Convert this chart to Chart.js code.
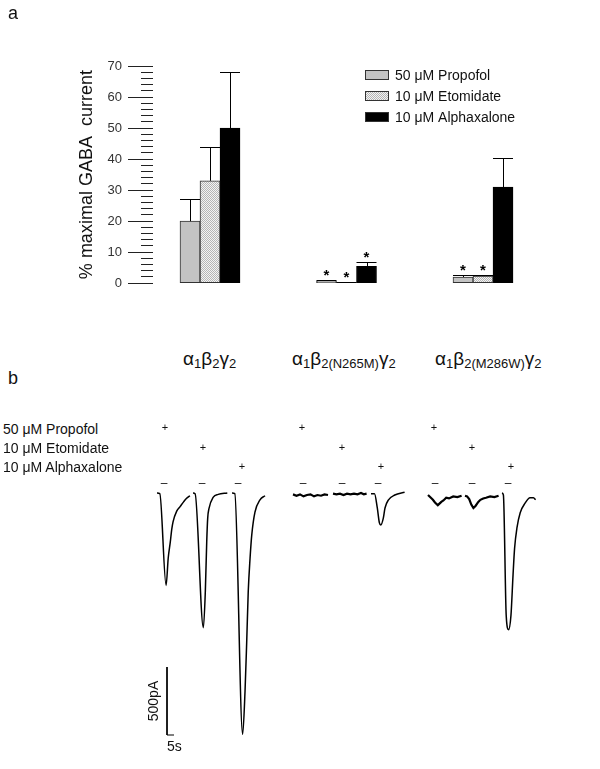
<!DOCTYPE html>
<html lang="en">
<head>
<meta charset="utf-8" />
<title>Anaesthetic potentiation of GABA currents</title>
<style>
  body { margin: 0; background: #fff; font-family: "Liberation Sans", Arial, sans-serif; color: #111; }
  #page { position: relative; width: 600px; height: 769px; overflow: hidden; }
  #bars { position: absolute; left: 0; top: 0; }
  #traces { position: absolute; left: 0; top: 470px; }
  .txt { position: absolute; line-height: 1; white-space: nowrap; }
  .panel { font-size: 18px; }
  .row { font-size: 14px; left: 3px; }
  .grp { font-size: 19px; top: 349px; }
  .grp sub { font-size: 13px; vertical-align: -3px; line-height: 1; }
  .plus { font-size: 11px; transform: translateX(-50%); }
  .dash { font-size: 12px; top: 477px; transform: translateX(-50%); }
</style>
<script src="https://cdn.jsdelivr.net/npm/chart.js"></script>
</head>
<body>
<div id="page">
  <canvas id="bars" width="600" height="310"></canvas>
  <canvas id="traces" width="600" height="299"></canvas>

  <div class="txt panel" style="left:8px; top:4px;">a</div>
  <div class="txt panel" style="left:8px; top:369px;">b</div>

  <div class="txt grp" style="left:183px;">α<sub>1</sub>β<sub>2</sub>γ<sub>2</sub></div>
  <div class="txt grp" style="left:292px;">α<sub>1</sub>β<sub>2(N265M)</sub>γ<sub>2</sub></div>
  <div class="txt grp" style="left:435px;">α<sub>1</sub>β<sub>2(M286W)</sub>γ<sub>2</sub></div>

  <div class="txt row" style="top:422px;">50 μM Propofol</div>
  <div class="txt row" style="top:441px;">10 μM Etomidate</div>
  <div class="txt row" style="top:460px;">10 μM Alphaxalone</div>

  <div class="txt plus" style="left:165px; top:422px;">+</div>
  <div class="txt plus" style="left:302px; top:422px;">+</div>
  <div class="txt plus" style="left:434px; top:422px;">+</div>
  <div class="txt plus" style="left:203px; top:442px;">+</div>
  <div class="txt plus" style="left:342px; top:442px;">+</div>
  <div class="txt plus" style="left:472px; top:442px;">+</div>
  <div class="txt plus" style="left:242px; top:461px;">+</div>
  <div class="txt plus" style="left:381px; top:461px;">+</div>
  <div class="txt plus" style="left:511px; top:461px;">+</div>

  <div class="txt dash" style="left:164px;">–</div>
  <div class="txt dash" style="left:202px;">–</div>
  <div class="txt dash" style="left:238px;">–</div>
  <div class="txt dash" style="left:303px;">–</div>
  <div class="txt dash" style="left:342px;">–</div>
  <div class="txt dash" style="left:378px;">–</div>
  <div class="txt dash" style="left:435px;">–</div>
  <div class="txt dash" style="left:472px;">–</div>
  <div class="txt dash" style="left:508px;">–</div>

  <div class="txt" style="left:153px; top:701px; font-size:14px; transform:translate(-50%,-50%) rotate(-90deg);">500pA</div>
  <div class="txt" style="left:167px; top:739px; font-size:14px;">5s</div>
</div>

<script>
  const FONT = '"Liberation Sans", Arial, sans-serif';

  // ---- panel a : % of maximal GABA current ----
  const receptors = ['α1β2γ2', 'α1β2(N265M)γ2', 'α1β2(M286W)γ2'];
  const drugs = ['50 μM Propofol', '10 μM Etomidate', '10 μM Alphaxalone'];
  const propofolMean = [20, 0.7, 2.0];
  const propofolSem = [7, 0.2, 0.8];
  const etomidateMean = [33, 0.3, 2.3];
  const etomidateSem = [11, 0.1, 0.5];
  const alphaxaloneMean = [50, 5.4, 31];
  const alphaxaloneSem = [18, 1.4, 9.2];
  const propofolSig = [false, true, true];
  const etomidateSig = [false, true, true];
  const alphaxaloneSig = [false, true, false];
  const yMin = 0, yMax = 70, majorStep = 10, minorStep = 2;

  // ---- panel b : current traces (time s from sweep start, current pA) ----
  const wtPropT = [0, 2, 6.5, 8, 9.5, 10.5, 11.5, 14, 16.5, 19, 21, 23.5];
  const wtPropI = [0, -5, -680, -480, -360, -270, -210, -135, -100, -65, -40, -20];
  const wtEtoT = [0, 1.5, 7.4, 8.8, 9.8, 10.5, 11.4, 14.5, 18, 24.5];
  const wtEtoI = [0, -5, -990, -725, -360, -185, -115, -30, -10, 0];
  const wtAlphT = [0, 2, 7.6, 9.3, 10.5, 11.6, 12.9, 14.1, 16.4, 20, 23.6];
  const wtAlphI = [0, -5, -1775, -1460, -1095, -725, -480, -310, -140, -50, -20];
  const nPropT = [0, 2.5, 5, 7.5, 10, 12.5, 15, 17.5, 20, 22.5, 25];
  const nPropI = [-10, -20, -10, -25, -15, -10, -25, -15, -20, -10, -15];
  const nEtoT = [0, 2.5, 5, 7.5, 10, 12.5, 15, 17.5, 20, 22, 24];
  const nEtoI = [-5, -10, -5, -15, -5, -10, -5, -10, 0, -10, -5];
  const nAlphT = [0, 2.5, 4.5, 6, 7, 8.8, 10, 12.5, 17, 24];
  const nAlphI = [-5, -5, -110, -220, -235, -185, -110, -50, -15, 5];
  const mPropT = [0, 1.5, 3.5, 5, 7, 8, 9.5, 11, 13, 15, 18, 21, 24];
  const mPropI = [-15, -30, -50, -70, -90, -80, -65, -55, -35, -40, -25, -30, -20];
  const mEtoT = [0, 1.5, 3, 4.5, 6, 7.5, 9.5, 11, 13, 15, 18, 21, 24];
  const mEtoI = [-20, -25, -45, -85, -110, -95, -65, -50, -40, -35, -25, -30, -20];
  const mAlphT = [0, 1, 3, 4.7, 6.4, 7.9, 9, 10.7, 13, 16.5, 20, 22.5, 24];
  const mAlphI = [0, -15, -900, -1005, -900, -600, -405, -255, -145, -75, -35, -35, -50];
  const scaleBarPA = 500, scaleBarS = 5;

  // layout of panel b (px on page -> seconds along a display axis)
  const PX_PER_S = 1.4, PX_PER_PA = 0.136, BASE_PX = 23;
  const sweepStartPx = [157, 193, 232, 293, 333, 371, 428, 465, 502];
  const scaleBarPx = { x: 167, top: 667 - 470 };

  // bar fills
  const barCtx = document.getElementById('bars').getContext('2d');
  const dither = document.createElement('canvas');
  dither.width = 2; dither.height = 2;
  const dg = dither.getContext('2d');
  dg.fillStyle = '#f3f3f3'; dg.fillRect(0, 0, 2, 2);
  dg.fillStyle = '#b5b5b5'; dg.fillRect(0, 0, 1, 1); dg.fillRect(1, 1, 1, 1);
  const etoFill = barCtx.createPattern(dither, 'repeat');

  const toXY = arr => arr.map((v, i) => ({ x: i + 1, y: v }));

  const barExtras = {
    id: 'barExtras',
    afterDatasetsDraw(chart) {
      const ctx = chart.ctx;
      const y = chart.scales.y;
      ctx.save();
      ctx.strokeStyle = '#000';
      ctx.lineWidth = 1;
      chart.data.datasets.forEach((ds, di) => {
        chart.getDatasetMeta(di).data.forEach((bar, j) => {
          const top = Math.round(y.getPixelForValue(ds.data[j].y + ds.sem[j])) + 0.5;
          const cx = Math.round(bar.x) + 0.5;
          const half = bar.width / 2;
          ctx.beginPath();
          ctx.moveTo(cx, bar.y);
          ctx.lineTo(cx, top);
          ctx.moveTo(bar.x - half, top);
          ctx.lineTo(bar.x + half, top);
          ctx.stroke();
          if (ds.sig[j]) {
            ctx.fillStyle = '#000';
            ctx.font = 'bold 15px ' + FONT;
            ctx.textAlign = 'center';
            ctx.textBaseline = 'alphabetic';
            ctx.fillText('*', bar.x, top - 1);
          }
        });
      });
      // long major ticks
      for (let v = yMin; v <= yMax; v += majorStep) {
        const py = Math.round(y.getPixelForValue(v)) + 0.5;
        ctx.beginPath();
        ctx.moveTo(y.right - 25, py);
        ctx.lineTo(y.right - 12, py);
        ctx.strokeStyle = '#222';
        ctx.stroke();
      }
      // legend
      ctx.font = '14px ' + FONT;
      ctx.textAlign = 'left';
      ctx.textBaseline = 'middle';
      chart.data.datasets.forEach((ds, di) => {
        const cy = 75 + di * 21;
        ctx.fillStyle = ds.backgroundColor;
        ctx.fillRect(365, cy - 5, 24, 10);
        ctx.strokeStyle = '#333';
        ctx.strokeRect(365.5, cy - 4.5, 23, 9);
        ctx.fillStyle = '#111';
        ctx.fillText(ds.label, 395, cy + 1);
      });
      ctx.restore();
    }
  };

  new Chart(barCtx, {
    type: 'bar',
    data: {
      datasets: [
        { label: drugs[0], data: toXY(propofolMean), sem: propofolSem, sig: propofolSig,
          backgroundColor: '#c3c3c3', borderColor: '#333', borderWidth: 1, borderSkipped: false },
        { label: drugs[1], data: toXY(etomidateMean), sem: etomidateSem, sig: etomidateSig,
          backgroundColor: etoFill, borderColor: '#333', borderWidth: 1, borderSkipped: false },
        { label: drugs[2], data: toXY(alphaxaloneMean), sem: alphaxaloneSem, sig: alphaxaloneSig,
          backgroundColor: '#000', borderColor: '#000', borderWidth: 1, borderSkipped: false }
      ]
    },
    options: {
      responsive: false,
      animation: false,
      barThickness: 20,
      layout: { padding: { top: 66, bottom: 21, left: 0, right: 40 } },
      plugins: { legend: { display: false }, tooltip: { enabled: false } },
      scales: {
        x: { type: 'linear', min: 0.5824, max: 3.564, offset: false, display: false },
        y: {
          min: yMin, max: yMax,
          border: { display: false },
          grid: { drawOnChartArea: false, tickLength: 12, tickColor: '#222', lineWidth: 1 },
          ticks: {
            stepSize: minorStep, autoSkip: false, maxTicksLimit: 100, padding: 19,
            color: '#333', font: { size: 13, family: FONT },
            callback: v => (v % majorStep === 0 ? v : '')
          },
          title: { display: true, text: '% maximal GABA  current', color: '#111',
                   font: { size: 18, family: FONT }, padding: { top: 76, bottom: 0 } },
          afterFit: s => { s.width = 153; }
        }
      }
    },
    plugins: [barExtras]
  });

  // ---- traces ----
  const sweeps = [
    [wtPropT, wtPropI], [wtEtoT, wtEtoI], [wtAlphT, wtAlphI],
    [nPropT, nPropI], [nEtoT, nEtoI], [nAlphT, nAlphI],
    [mPropT, mPropI], [mEtoT, mEtoI], [mAlphT, mAlphI]
  ];
  const noisy = [false, false, false, true, true, false, true, true, false];

  const traceSets = sweeps.map(([t, I], k) => ({
    data: t.map((s, i) => ({ x: sweepStartPx[k] / PX_PER_S + s, y: I[i] })),
    borderColor: '#000',
    borderWidth: noisy[k] ? 2.2 : 1.5,
    cubicInterpolationMode: noisy[k] ? 'default' : 'monotone',
    tension: noisy[k] ? 0 : 0.4,
    pointRadius: 0
  }));

  const sbX = scaleBarPx.x / PX_PER_S;
  const sbTop = -(scaleBarPx.top - BASE_PX) / PX_PER_PA;
  traceSets.push({
    data: [{ x: sbX, y: sbTop }, { x: sbX, y: sbTop - scaleBarPA }, { x: sbX + scaleBarS, y: sbTop - scaleBarPA }],
    borderColor: '#000', borderWidth: 1, pointRadius: 0, tension: 0
  });

  new Chart(document.getElementById('traces'), {
    type: 'line',
    data: { datasets: traceSets },
    options: {
      responsive: false,
      animation: false,
      layout: { padding: 0 },
      plugins: { legend: { display: false }, tooltip: { enabled: false } },
      scales: {
        x: { type: 'linear', display: false, min: 0, max: 600 / PX_PER_S },
        y: { type: 'linear', display: false, min: -(299 - BASE_PX) / PX_PER_PA, max: BASE_PX / PX_PER_PA }
      }
    }
  });
</script>
</body>
</html>
